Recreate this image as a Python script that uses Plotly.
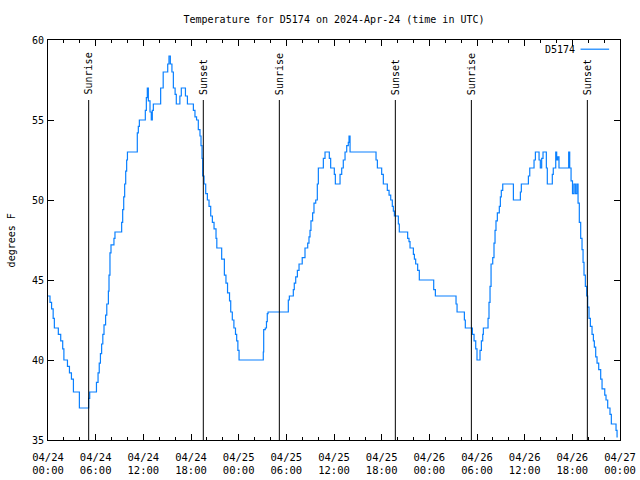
import pandas as pd
import plotly.graph_objects as go

START = pd.Timestamp("2024-04-24 00:00")

# Observation times (hours after 2024-04-24 00:00 UTC) and temperatures (deg F)
hours = [0, 0.25, 0.45, 0.65, 0.8, 1.3, 1.6, 1.85, 2.0, 2.45, 2.7, 2.95, 3.2, 3.95,
         5.12, 5.25, 6.1, 6.3, 6.45, 6.6, 6.75, 6.9, 7.05, 7.25, 7.4, 7.6, 7.68, 7.8,
         7.93, 8.3, 8.43, 9.27, 9.4, 9.53, 9.65, 9.78, 9.9, 10.0, 11.24, 11.37, 11.5,
         12.25, 12.38, 12.5, 12.63, 12.84, 13.0, 13.13, 13.26, 14.18, 14.5, 15.07,
         15.23, 15.4, 15.6, 15.78, 16.0, 16.15, 16.6, 16.78, 17.3, 17.55, 18.3, 18.5,
         18.7, 18.92, 19.13, 19.26, 19.39, 19.47, 19.64, 19.85, 20.06, 20.27, 20.48,
         20.69, 20.9, 21.15, 21.25, 21.86, 22.2, 22.4, 22.6, 22.85, 23.0, 23.2, 23.4,
         23.6, 23.75, 23.9, 24.05, 27.1, 27.15, 27.35, 27.5, 27.6, 27.7,
         30.25, 30.38, 30.88, 31.0, 31.18, 31.39, 31.6, 32.0, 32.35, 32.69, 32.85,
         32.98, 33.1, 33.31, 33.48, 33.7, 33.9, 34.03, 34.66, 34.87, 35.41, 35.58,
         36.04, 36.17, 36.76, 36.97, 37.17, 37.39, 37.6, 37.8, 37.89, 38.02, 41.29,
         41.46, 42.0, 42.21, 42.71, 42.93, 43.14, 43.34, 43.47, 43.6, 44.1, 44.22,
         45.27, 45.44, 45.57, 45.99, 46.12, 46.28, 46.53, 46.74,
         48.55, 48.76, 51.36, 51.49, 52.41, 52.53, 53.42, 53.63, 53.84, 54.0, 54.38,
         54.55, 54.72, 54.8, 55.39, 55.51, 55.64, 55.77, 55.98, 56.14, 56.27, 56.39,
         56.56, 56.81, 56.94, 57.06, 57.24, 58.58, 59.46, 59.58, 60.47, 60.64, 61.18,
         61.35, 61.81, 61.97, 62.14, 62.31, 62.73, 62.85, 63.48, 63.6, 63.91, 64.03,
         64.16, 64.32, 65.54, 65.67, 65.84, 66.02, 66.2, 66.38, 66.56, 66.72,
         66.88, 67.05, 67.22, 67.35, 67.47, 67.64, 67.81, 67.93, 68.1, 68.27, 68.48,
         68.65, 68.77, 68.94, 69.11, 69.32, 69.57, 69.74, 70.08, 70.24, 70.45, 70.74,
         70.91, 71.5, 71.63, 71.71]
temps_f = [44, 43.6, 43.2, 42.6, 42, 41.6, 41.2, 40.7, 40, 39.6, 39.2, 38.8, 38, 37,
           37.6, 38, 38.6, 39.2, 39.8, 40.4, 41, 41.6, 42.2, 42.8, 43.5, 44.3, 45.3, 46.7,
           47.2, 47.6, 48, 48.6, 49.4, 50.2, 51, 51.8, 52.5, 53, 54.2, 54.6, 55,
           55.6, 56.4, 57, 56.2, 55.5, 55, 55.6, 56, 57, 58, 58.5,
           59, 58.5, 58, 57, 56.6, 56, 56.5, 57, 56.5, 56, 55.6, 55.2,
           55, 54.4, 54, 53.4, 52.6, 51.5, 51, 50.4, 50, 49.6, 49,
           48.6, 48.2, 47.6, 47, 46.3, 45.3, 44.8, 44.2, 43.7, 43, 42.5, 42,
           41.6, 41.2, 40.6, 40, 40.5, 41.9, 42, 42.4, 42.9, 43,
           43.75, 44, 44.4, 44.8, 45.2, 45.6, 46, 46.4, 47, 47.3, 47.7,
           48.1, 48.7, 49.2, 49.8, 50, 51, 52, 52.6, 53, 52.6, 52,
           51.6, 51, 51.6, 52, 52.5, 53, 53.4, 53.6, 54, 53, 52.5,
           52, 51.6, 51, 50.6, 50.3, 50, 49.6, 49.3, 49, 48.5, 48,
           47.6, 47.4, 47, 46.6, 46.3, 46, 45.6, 45,
           44.4, 44, 43.5, 43, 42.5, 42, 41.6, 41.2, 40.7, 40, 40.6,
           41.2, 41.6, 42, 42.6, 43.6, 44.6, 46, 46.4, 47.3, 48.1, 48.7,
           49.2, 49.6, 50.2, 50.6, 51, 50, 50.5, 51, 51.5, 52, 52.5,
           53, 52.5, 52, 52.6, 53, 52, 51, 51.6, 52, 53, 52.5,
           52.7, 52, 53, 52, 51.2, 50.4, 51, 50.4, 51, 49.8,
           48.6, 47.6, 46.9, 46.1, 45.3, 44.6, 44, 43.3, 42.6, 42.1, 41.6,
           41.2, 40.8, 40.2, 39.8, 39.4, 38.8, 38.2, 37.8, 37.5, 37, 36.6,
           36, 35.6, 35.2, 35.2]

sunrise_hours = [5.12, 29.12, 53.29]
sunset_hours = [19.55, 43.72, 67.89]

station = "D5174"
title_text = "Temperature for D5174 on 2024-Apr-24 (time in UTC)"
y_label = "degrees F"

FONT = "DejaVu Sans Mono"
LINE_COLOR = "#0a80ff"

times = [START + pd.Timedelta(hours=h) for h in hours]

fig = go.Figure()
fig.add_trace(go.Scatter(x=times, y=temps_f, mode="lines", line_shape="hv",
                         line=dict(color=LINE_COLOR, width=1.2), showlegend=False,
                         name=station))

shapes = []
annotations = []
for label, hrs in (("Sunrise", sunrise_hours), ("Sunset", sunset_hours)):
    for h in hrs:
        t = START + pd.Timedelta(hours=h)
        shapes.append(dict(type="line", xref="x", yref="y", x0=t, x1=t,
                           y0=35, y1=56.25, line=dict(color="black", width=1)))
        annotations.append(dict(x=t, y=56.45, xref="x", yref="y", text=label,
                                textangle=-90, showarrow=False, xanchor="center",
                                yanchor="bottom", font=dict(family=FONT, size=10, color="black")))

# legend (gnuplot style: text then line sample)
annotations.append(dict(x=0.924, y=0.977, xref="paper", yref="paper", text=station,
                        showarrow=False, xanchor="right", yanchor="middle",
                        font=dict(family=FONT, size=10, color="black")))
shapes.append(dict(type="line", xref="paper", yref="paper", x0=0.931, x1=0.981,
                   y0=0.977, y1=0.977, line=dict(color=LINE_COLOR, width=1.2)))

annotations.append(dict(x=-0.064, y=0.5, xref="paper", yref="paper", text=y_label,
                        textangle=-90, showarrow=False, xanchor="center", yanchor="middle",
                        font=dict(family=FONT, size=10, color="black")))

fig.update_layout(
    width=640, height=480,
    margin=dict(l=48, r=20, t=40, b=40, autoexpand=False),
    paper_bgcolor="white", plot_bgcolor="white",
    font=dict(family=FONT, size=10, color="black"),
    title=dict(text=title_text, x=0.5, xref="paper", y=1 - 19 / 480, yref="container",
               xanchor="center", yanchor="middle",
               font=dict(family=FONT, size=10, color="black")),
    shapes=shapes, annotations=annotations,
)
fig.update_xaxes(
    type="date",
    range=[START, START + pd.Timedelta(hours=72)],
    tick0=START, dtick=6 * 3600 * 1000,
    tickformat="%m/%d<br>%H:%M",
    ticks="inside", ticklen=6, tickcolor="black",
    minor=dict(dtick=2 * 3600 * 1000, ticks="inside", ticklen=3, tickcolor="black"),
    showline=True, linecolor="black", linewidth=1, mirror="allticks",
    showgrid=False, zeroline=False, ticklabelstandoff=7, automargin=False,
    tickfont=dict(family=FONT, size=10.5, color="black"),
)
fig.update_yaxes(
    range=[35, 60], dtick=5, tick0=35,
    ticks="inside", ticklen=6, tickcolor="black",
    showline=True, linecolor="black", linewidth=1, mirror="allticks",
    showgrid=False, zeroline=False, ticklabelstandoff=1, automargin=False,
    tickfont=dict(family=FONT, size=10, color="black"),
)

fig.write_html("out.html", config={"displayModeBar": False},
               post_script="document.body.style.margin='0';document.body.style.overflow='hidden';")
